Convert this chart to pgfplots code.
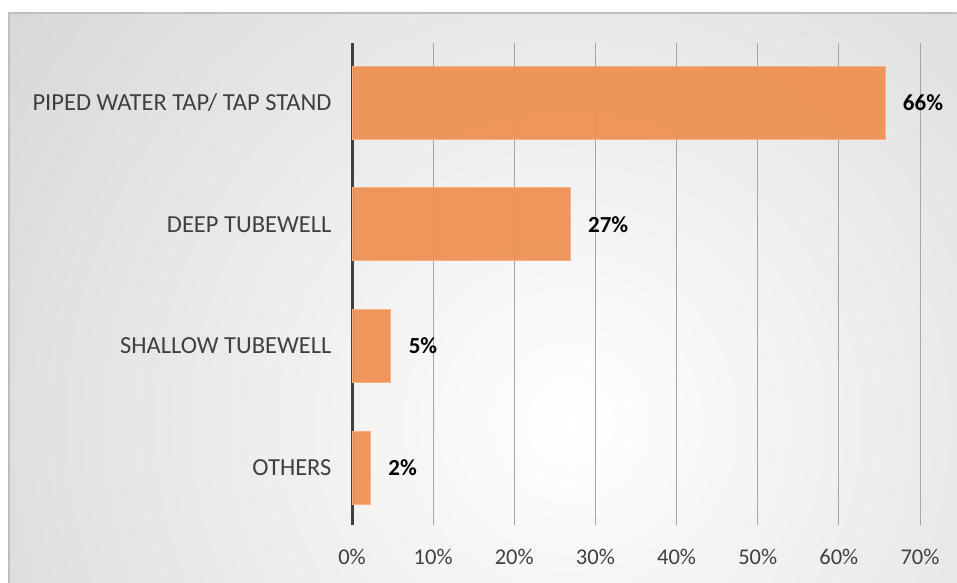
\documentclass[border=0pt]{standalone}
\usepackage{fontspec}
\setmainfont{Carlito}
\usepackage{pgfplots}
\usepackage{pgfplotstable}
\pgfplotsset{compat=1.18}
\definecolor{barc}{HTML}{EE8F50}
\definecolor{baredge}{HTML}{F4B287}
\definecolor{txt}{HTML}{404040}
\definecolor{gridc}{HTML}{A6A6A6}
\definecolor{bgout}{HTML}{BEBEBE}
\definecolor{framec}{HTML}{BFBFBF}
\pgfplotstableread{
y x lab
0 2.3 2
1 4.8 5
2 26.9 27
3 65.7 66
}\datatab
\begin{document}
\begin{tikzpicture}[x=1pt,y=1pt]
\useasboundingbox (0,0) rectangle (957,582);
\fill[white] (0,0) rectangle (957,582);
\begin{scope}
\clip (9,-5) rectangle (965,569);
\shade[inner color=white, outer color=bgout] (570,160) circle (1150);
\end{scope}
\draw[framec, line width=1.2pt] (9,-5) -- (9,569) -- (965,569);
\begin{axis}[
  at={(352pt,57pt)}, anchor=south west,
  scale only axis, width=568pt, height=482pt,
  xbar, bar width=0.6,
  xmin=0, xmax=70, ymin=-0.47, ymax=3.49,
  axis lines=left,
  axis line style={-},
  x axis line style={draw=none},
  y axis line style={draw=txt, line width=3pt},
  xmajorgrids, major grid style={draw=gridc, line width=1pt},
  major tick length=0pt,
  xtick={0,10,...,70},
  xticklabel={\pgfmathprintnumber{\tick}\%},
  ytick={0,1,2,3},
  yticklabels={OTHERS, SHALLOW TUBEWELL, DEEP TUBEWELL, PIPED WATER TAP/ TAP STAND},
  /pgf/number format/assume math mode=true,
  yticklabel style={font=\fontsize{24.5}{28}\selectfont, text=txt, xshift=-17pt},
  xticklabel style={font=\fontsize{22.5}{27}\selectfont, text=txt, yshift=-21pt},
  nodes near coords={\pgfmathprintnumber[fixed,precision=0]{\pgfplotspointmeta}\%},
  point meta=explicit,
  every node near coord/.append style={font=\bfseries\fontsize{23}{27}\selectfont, text=black, anchor=west, xshift=14pt},
  clip=false,
]
\addplot[fill=barc, draw=baredge, line width=1pt, fill opacity=0.92, text opacity=1] table[x=x, y=y, meta=lab] {\datatab};
\end{axis}
\end{tikzpicture}
\end{document}
